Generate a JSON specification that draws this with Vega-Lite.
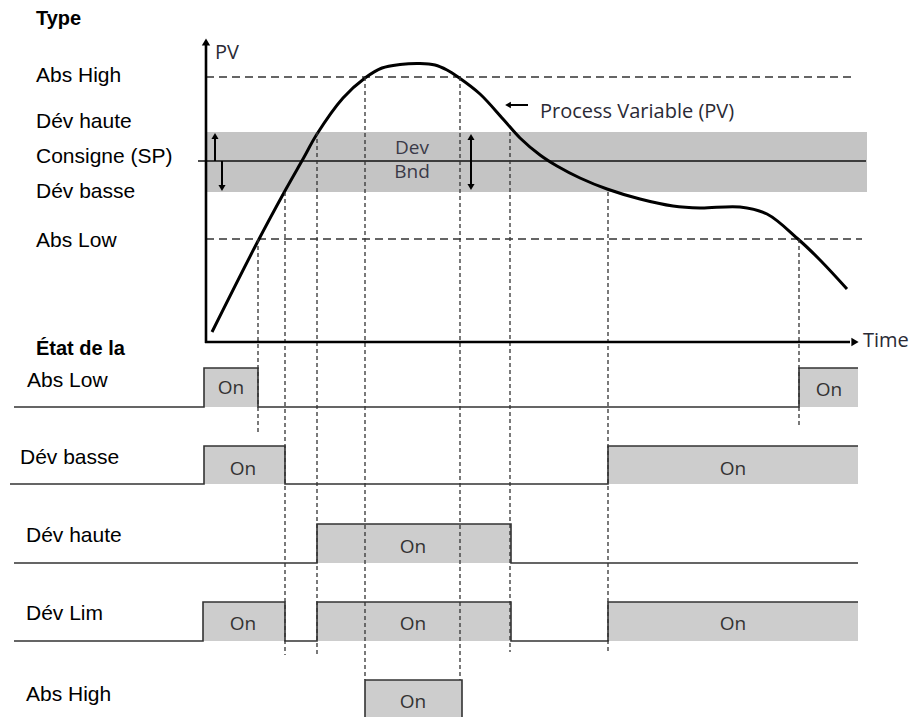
{
  "$schema": "https://vega.github.io/schema/vega-lite/v6.json",
  "width": 921,
  "height": 717,
  "autosize": {"type": "fit", "contains": "padding"},
  "padding": 0,
  "background": "white",
  "config": {"view": {"stroke": null}},
  "datasets": {
    "band": [{"x": 206, "x2": 867, "y": 132, "y2": 192}],
    "sp": [{"x": 198, "x2": 866, "y": 161}],
    "absLines": [{"x": 206, "x2": 855, "y": 77}, {"x": 206, "x2": 862, "y": 239}],
    "boxes": [
      {"x": 204, "x2": 258, "y": 368, "y2": 407},
      {"x": 799, "x2": 858, "y": 368, "y2": 407},
      {"x": 204, "x2": 285, "y": 446, "y2": 484},
      {"x": 608, "x2": 858, "y": 446, "y2": 484},
      {"x": 317, "x2": 511, "y": 524, "y2": 563},
      {"x": 203, "x2": 285, "y": 602, "y2": 641},
      {"x": 317, "x2": 511, "y": 602, "y2": 641},
      {"x": 608, "x2": 858, "y": 602, "y2": 641},
      {"x": 365, "x2": 462, "y": 680, "y2": 725}
    ],
    "steps": [
      {"id": "AbsLow", "o": 1, "x": 14, "y": 407},
      {"id": "AbsLow", "o": 2, "x": 204, "y": 407},
      {"id": "AbsLow", "o": 3, "x": 204, "y": 368},
      {"id": "AbsLow", "o": 4, "x": 258, "y": 368},
      {"id": "AbsLow", "o": 5, "x": 258, "y": 407},
      {"id": "AbsLow", "o": 6, "x": 799, "y": 407},
      {"id": "AbsLow", "o": 7, "x": 799, "y": 368},
      {"id": "AbsLow", "o": 8, "x": 858, "y": 368},
      {"id": "DevBasse", "o": 1, "x": 10, "y": 484},
      {"id": "DevBasse", "o": 2, "x": 204, "y": 484},
      {"id": "DevBasse", "o": 3, "x": 204, "y": 446},
      {"id": "DevBasse", "o": 4, "x": 285, "y": 446},
      {"id": "DevBasse", "o": 5, "x": 285, "y": 484},
      {"id": "DevBasse", "o": 6, "x": 608, "y": 484},
      {"id": "DevBasse", "o": 7, "x": 608, "y": 446},
      {"id": "DevBasse", "o": 8, "x": 858, "y": 446},
      {"id": "DevHaute", "o": 1, "x": 14, "y": 563},
      {"id": "DevHaute", "o": 2, "x": 317, "y": 563},
      {"id": "DevHaute", "o": 3, "x": 317, "y": 524},
      {"id": "DevHaute", "o": 4, "x": 511, "y": 524},
      {"id": "DevHaute", "o": 5, "x": 511, "y": 563},
      {"id": "DevHaute", "o": 6, "x": 858, "y": 563},
      {"id": "DevLim", "o": 1, "x": 14, "y": 641},
      {"id": "DevLim", "o": 2, "x": 203, "y": 641},
      {"id": "DevLim", "o": 3, "x": 203, "y": 602},
      {"id": "DevLim", "o": 4, "x": 285, "y": 602},
      {"id": "DevLim", "o": 5, "x": 285, "y": 641},
      {"id": "DevLim", "o": 6, "x": 317, "y": 641},
      {"id": "DevLim", "o": 7, "x": 317, "y": 602},
      {"id": "DevLim", "o": 8, "x": 511, "y": 602},
      {"id": "DevLim", "o": 9, "x": 511, "y": 641},
      {"id": "DevLim", "o": 10, "x": 608, "y": 641},
      {"id": "DevLim", "o": 11, "x": 608, "y": 602},
      {"id": "DevLim", "o": 12, "x": 858, "y": 602},
      {"id": "AbsHigh", "o": 1, "x": 365, "y": 725},
      {"id": "AbsHigh", "o": 2, "x": 365, "y": 680},
      {"id": "AbsHigh", "o": 3, "x": 462, "y": 680},
      {"id": "AbsHigh", "o": 4, "x": 462, "y": 725}
    ],
    "curve": [
      {"o": 1, "x": 212, "y": 332},
      {"o": 2, "x": 258, "y": 241},
      {"o": 3, "x": 286, "y": 189},
      {"o": 4, "x": 303, "y": 159},
      {"o": 5, "x": 317, "y": 134},
      {"o": 6, "x": 343, "y": 98},
      {"o": 7, "x": 365, "y": 78},
      {"o": 8, "x": 382, "y": 68},
      {"o": 9, "x": 400, "y": 64.5},
      {"o": 10, "x": 420, "y": 63.5},
      {"o": 11, "x": 435, "y": 65},
      {"o": 12, "x": 447, "y": 70},
      {"o": 13, "x": 458, "y": 77},
      {"o": 14, "x": 480, "y": 94},
      {"o": 15, "x": 503, "y": 119},
      {"o": 16, "x": 520, "y": 138},
      {"o": 17, "x": 540, "y": 155},
      {"o": 18, "x": 557, "y": 166},
      {"o": 19, "x": 580, "y": 178},
      {"o": 20, "x": 607, "y": 189},
      {"o": 21, "x": 640, "y": 199},
      {"o": 22, "x": 673, "y": 206},
      {"o": 23, "x": 700, "y": 208},
      {"o": 24, "x": 740, "y": 207},
      {"o": 25, "x": 767, "y": 214},
      {"o": 26, "x": 798, "y": 239},
      {"o": 27, "x": 820, "y": 260},
      {"o": 28, "x": 847, "y": 289}
    ],
    "vdash": [
      {"x": 258, "y": 239, "y2": 433},
      {"x": 285, "y": 192, "y2": 655},
      {"x": 317, "y": 132, "y2": 655},
      {"x": 365, "y": 77, "y2": 680},
      {"x": 460, "y": 77, "y2": 680},
      {"x": 510, "y": 132, "y2": 652},
      {"x": 608, "y": 192, "y2": 651},
      {"x": 799, "y": 239, "y2": 427}
    ],
    "axesV": [{"x": 206, "y": 44, "y2": 343}],
    "axesH": [{"x": 205, "x2": 850, "y": 342}],
    "smallShaftsV": [
      {"x": 215, "y": 138, "y2": 161},
      {"x": 222, "y": 161, "y2": 186},
      {"x": 471, "y": 139, "y2": 185}
    ],
    "pointerShaft": [{"x": 510, "x2": 528, "y": 105}],
    "headUp": [{"x": 206, "y": 42, "s": "big"}, {"x": 215, "y": 136, "s": "small"}, {"x": 471, "y": 137, "s": "small"}],
    "headDown": [{"x": 222, "y": 188}, {"x": 471, "y": 187}],
    "headRight": [{"x": 855, "y": 342}],
    "headLeft": [{"x": 508, "y": 105}],
    "labels": [
      {"x": 36, "y": 76, "t": "Abs High"},
      {"x": 36, "y": 122, "t": "Dév haute"},
      {"x": 36, "y": 157, "t": "Consigne (SP)"},
      {"x": 36, "y": 192, "t": "Dév basse"},
      {"x": 36, "y": 241, "t": "Abs Low"},
      {"x": 27, "y": 381, "t": "Abs Low"},
      {"x": 20, "y": 458, "t": "Dév basse"},
      {"x": 26, "y": 536, "t": "Dév haute"},
      {"x": 26, "y": 614, "t": "Dév Lim"},
      {"x": 26, "y": 695, "t": "Abs High"}
    ],
    "boldLabels": [
      {"x": 36, "y": 19, "t": "Type"},
      {"x": 36, "y": 349, "t": "État de la"}
    ],
    "onTexts": [
      {"x": 231, "y": 388, "t": "On"},
      {"x": 829, "y": 390, "t": "On"},
      {"x": 243, "y": 469, "t": "On"},
      {"x": 733, "y": 469, "t": "On"},
      {"x": 413, "y": 547, "t": "On"},
      {"x": 243, "y": 624, "t": "On"},
      {"x": 413, "y": 624, "t": "On"},
      {"x": 733, "y": 624, "t": "On"},
      {"x": 413, "y": 702, "t": "On"}
    ],
    "leftTexts": [
      {"x": 215, "y": 53, "t": "PV"},
      {"x": 863, "y": 341, "t": "Time"},
      {"x": 540, "y": 112, "t": "Process Variable  (PV)"}
    ],
    "centerTexts": [
      {"x": 412, "y": 148, "t": "Dev"},
      {"x": 412, "y": 172, "t": "Bnd"}
    ]
  },
  "encoding": {
    "x": {"field": "x", "type": "quantitative", "scale": {"domain": [0, 921], "nice": false, "zero": false}, "axis": null},
    "y": {"field": "y", "type": "quantitative", "scale": {"domain": [0, 717], "reverse": true, "nice": false, "zero": false}, "axis": null}
  },
  "layer": [
    {
      "data": {"name": "band"},
      "mark": {"type": "rect", "color": "#c4c4c4"},
      "encoding": {"x2": {"field": "x2"}, "y2": {"field": "y2"}}
    },
    {
      "data": {"name": "sp"},
      "mark": {"type": "rule", "color": "#111111", "strokeWidth": 1.3},
      "encoding": {"x2": {"field": "x2"}}
    },
    {
      "data": {"name": "absLines"},
      "mark": {"type": "rule", "color": "#333333", "strokeWidth": 1.3, "strokeDash": [8, 5]},
      "encoding": {"x2": {"field": "x2"}}
    },
    {
      "data": {"name": "boxes"},
      "mark": {"type": "rect", "color": "#cdcdcd", "clip": true},
      "encoding": {"x2": {"field": "x2"}, "y2": {"field": "y2"}}
    },
    {
      "data": {"name": "steps"},
      "mark": {"type": "line", "color": "#333333", "strokeWidth": 1.6, "clip": true},
      "encoding": {"detail": {"field": "id"}, "order": {"field": "o", "type": "quantitative"}}
    },
    {
      "data": {"name": "curve"},
      "mark": {"type": "line", "color": "#000000", "strokeWidth": 3, "interpolate": "catmull-rom"},
      "encoding": {"order": {"field": "o", "type": "quantitative"}}
    },
    {
      "data": {"name": "vdash"},
      "mark": {"type": "rule", "color": "#333333", "strokeWidth": 1.3, "strokeDash": [4, 3]},
      "encoding": {"y2": {"field": "y2"}}
    },
    {
      "data": {"name": "axesV"},
      "mark": {"type": "rule", "color": "#000000", "strokeWidth": 2.6},
      "encoding": {"y2": {"field": "y2"}}
    },
    {
      "data": {"name": "axesH"},
      "mark": {"type": "rule", "color": "#000000", "strokeWidth": 2.6},
      "encoding": {"x2": {"field": "x2"}}
    },
    {
      "data": {"name": "smallShaftsV"},
      "mark": {"type": "rule", "color": "#000000", "strokeWidth": 2},
      "encoding": {"y2": {"field": "y2"}}
    },
    {
      "data": {"name": "pointerShaft"},
      "mark": {"type": "rule", "color": "#000000", "strokeWidth": 2},
      "encoding": {"x2": {"field": "x2"}}
    },
    {
      "data": {"name": "headUp"},
      "mark": {"type": "point", "shape": "triangle-up", "filled": true, "color": "#000000", "opacity": 1},
      "encoding": {"size": {"field": "s", "type": "nominal", "scale": {"domain": ["big", "small"], "range": [70, 50]}, "legend": null}}
    },
    {
      "data": {"name": "headDown"},
      "mark": {"type": "point", "shape": "triangle-down", "filled": true, "color": "#000000", "opacity": 1, "size": 50}
    },
    {
      "data": {"name": "headRight"},
      "mark": {"type": "point", "shape": "triangle-right", "filled": true, "color": "#000000", "opacity": 1, "size": 70}
    },
    {
      "data": {"name": "headLeft"},
      "mark": {"type": "point", "shape": "triangle-left", "filled": true, "color": "#000000", "opacity": 1, "size": 45}
    },
    {
      "data": {"name": "labels"},
      "mark": {"type": "text", "align": "left", "baseline": "middle", "font": "Liberation Sans", "fontSize": 21, "color": "#000000"},
      "encoding": {"text": {"field": "t"}}
    },
    {
      "data": {"name": "boldLabels"},
      "mark": {"type": "text", "align": "left", "baseline": "middle", "font": "Liberation Sans", "fontSize": 20, "fontWeight": "bold", "color": "#000000"},
      "encoding": {"text": {"field": "t"}}
    },
    {
      "data": {"name": "onTexts"},
      "mark": {"type": "text", "align": "center", "baseline": "middle", "font": "Open Sans", "fontSize": 19, "color": "#333333"},
      "encoding": {"text": {"field": "t"}}
    },
    {
      "data": {"name": "leftTexts"},
      "mark": {"type": "text", "align": "left", "baseline": "middle", "font": "Open Sans", "fontSize": 20, "color": "#2a2a35"},
      "encoding": {"text": {"field": "t"}}
    },
    {
      "data": {"name": "centerTexts"},
      "mark": {"type": "text", "align": "center", "baseline": "middle", "font": "Open Sans", "fontSize": 19, "color": "#3a3a48"},
      "encoding": {"text": {"field": "t"}}
    }
  ]
}
